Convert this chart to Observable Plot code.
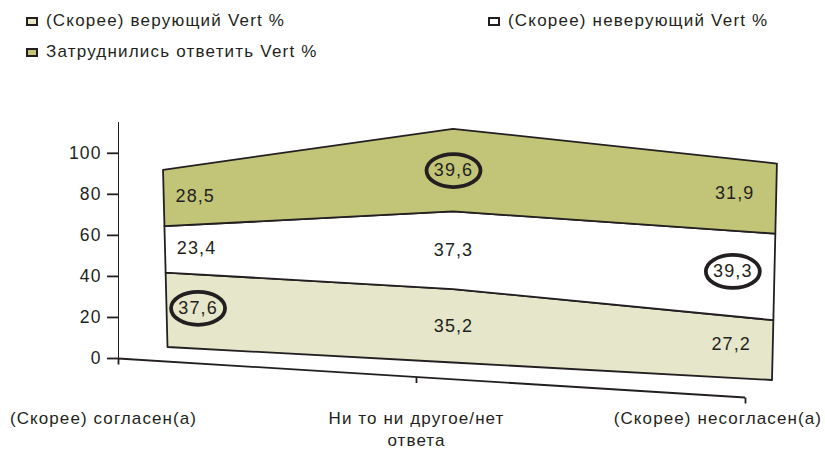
<!DOCTYPE html>
<html>
<head>
<meta charset="utf-8">
<script src="https://cdn.jsdelivr.net/npm/d3@7"></script>
<script src="https://cdn.jsdelivr.net/npm/@observablehq/plot@0.6"></script>
<style>
  html, body { margin: 0; padding: 0; background: #fff; }
  body { font-family: "Liberation Sans", Arial, Helvetica, sans-serif; color: #231f20; }
  #page { width: 825px; height: 449px; overflow: hidden; }
  #legend { position: relative; width: 825px; height: 64px; }
  .item { position: absolute; font-size: 17px; line-height: 20px; letter-spacing: 1.2px; white-space: nowrap; }
  .swatch { display: inline-block; width: 8px; height: 5px; border: 2.2px solid #231f20; margin-right: 8px; }
  #chart svg { display: block; overflow: visible; }
  #chart g[aria-label^="y-axis"] path, #chart g[aria-label^="y-axis"] line { stroke-width: 1.8px; }
</style>
</head>
<body>
<div id="page">
  <div id="legend"></div>
  <div id="chart"></div>
</div>
<script>
// ---------- data ----------
const categories = ["(Скорее) согласен(а)", "Ни то ни другое/нет\nответа", "(Скорее) несогласен(а)"];
const seriesNames = ["(Скорее) верующий Vert %", "(Скорее) неверующий Vert %", "Затруднились ответить Vert %"];
const believer = [37.6, 35.2, 27.2];
const nonBeliever = [23.4, 37.3, 39.3];
const undecided = [28.5, 39.6, 31.9];
const yTicks = [0, 20, 40, 60, 80, 100];

// ---------- style / layout ----------
const seriesColors = ["#e6e6ca", "#ffffff", "#c2c578"];
const ink = "#231f20";
const TOP = 64;                       // legend band above the svg
const W = 825, H = 449 - TOP;
const legendPos = [[26, 11], [488, 11], [26, 42]];
// pseudo-3D: back plane where the stacked areas sit, per category column
const back = {
  x: [167.5, 453, 772],
  base: [347 - TOP, 362.5 - TOP, 380 - TOP],
  unit: [1.98, 2.085, 2.2],
  lean: [-0.05, 0, 0.05],
  labelShift: [31, 0, -42],
  labelLift: [-2, 0, -6]
};
const floorSlope = 0.0622;
const categoryNudge = [-15, 0, 0];
const labelClamp = [7, 822];

// ---------- legend ----------
const legend = document.getElementById("legend");
seriesNames.forEach((name, i) => {
  const it = document.createElement("div");
  it.className = "item";
  it.style.left = legendPos[i][0] + "px";
  it.style.top = legendPos[i][1] + "px";
  const sw = document.createElement("span");
  sw.className = "swatch";
  sw.style.background = seriesColors[i];
  it.appendChild(sw);
  it.appendChild(document.createTextNode(name));
  legend.appendChild(it);
});

// ---------- table ----------
const seriesValues = [believer, nonBeliever, undecided];
const table = [];
seriesNames.forEach((s, si) => seriesValues[si].forEach((v, ci) => table.push({col: ci, series: s, value: v})));
const colMax = categories.map((_, ci) => d3.max(seriesValues, vals => vals[ci]));
const fmt = v => v.toFixed(1).replace(".", ",");

const kappa = 0.5523;
const ellipse = {draw(ctx) {
  const rx = 27, ry = 16.5, k = kappa;
  ctx.moveTo(rx, 0);
  ctx.bezierCurveTo(rx, ry * k, rx * k, ry, 0, ry);
  ctx.bezierCurveTo(-rx * k, ry, -rx, ry * k, -rx, 0);
  ctx.bezierCurveTo(-rx, -ry * k, -rx * k, -ry, 0, -ry);
  ctx.bezierCurveTo(rx * k, -ry, rx, -ry * k, rx, 0);
  ctx.closePath();
}};
const tickDown = {draw(ctx) { ctx.moveTo(0, 0); ctx.lineTo(0, 6); }};

const plot = Plot.plot({
  width: W, height: H,
  marginLeft: 118, marginRight: 80, marginTop: 58, marginBottom: 91,
  style: {fontFamily: "'Liberation Sans', Arial, sans-serif", fontSize: "17.5px", letterSpacing: "1.1px", color: ink, background: "transparent", overflow: "visible"},
  x: {type: "linear", domain: [0, 1, 2], range: [118, 416, 745], axis: null},
  y: {domain: [0, 115], ticks: yTicks, tickSize: 11, tickPadding: 6, line: true, label: null},
  color: {domain: seriesNames, range: seriesColors},
  marks: [
    Plot.areaY(table, {x: "col", y: "value", z: "series", fill: "series", stroke: ink, strokeWidth: 1.8, ariaDescription: "layers"}),
    Plot.text(table, Plot.stackY({x: "col", y: "value", z: "series", text: d => fmt(d.value), fill: ink, fontSize: 18, ariaDescription: "values"})),
    Plot.dot(table, Plot.stackY({x: "col", y: "value", z: "series", symbol: ellipse, fill: "none", stroke: ink, strokeWidth: 3.8,
      strokeOpacity: d => d.value === colMax[d.col] ? 1 : 0, ariaDescription: "highlights"})),
    Plot.ruleY([0], {stroke: ink, strokeWidth: 1.8, ariaDescription: "floor"}),
    Plot.dot(categories, {x: (d, i) => i, y: 0, symbol: tickDown, fill: "none", stroke: ink, strokeWidth: 1.8, ariaDescription: "floorticks"}),
    Plot.text(categories, {x: (d, i) => i, frameAnchor: "bottom", lineAnchor: "top", dy: 50, lineHeight: 1.29, fill: ink, fontSize: 17, ariaDescription: "categories"})
  ]
});
document.getElementById("chart").appendChild(plot);

// ---------- pseudo-3D projection of the flat chart ----------
const xsc = plot.scale("x"), ysc = plot.scale("y");
const colOf = d3.scaleLinear().domain(xsc.range).range(xsc.domain);
const valOf = d3.scaleLinear().domain(ysc.range).range(ysc.domain);
const cols = [0, 1, 2];
const bx = d3.scaleLinear(cols, back.x), bBase = d3.scaleLinear(cols, back.base),
      bUnit = d3.scaleLinear(cols, back.unit), bLean = d3.scaleLinear(cols, back.lean);
function project(xf, yf) {
  const c = colOf(xf), v = valOf(yf);
  return [bx(c) + bLean(c) * v, bBase(c) - bUnit(c) * v];
}
function grp(desc, type, idx) {
  return plot.querySelector(`g[aria-description="${desc}"]`) || plot.querySelectorAll(`g[aria-label="${type}"]`)[idx];
}
function getPos(el) {
  const t = el.getAttribute("transform");
  if (t) {
    const m = /translate\(\s*([-\d.e]+)[\s,]+([-\d.e]+)\s*\)/.exec(t);
    if (m) return {x: +m[1], y: +m[2], mode: "t"};
  }
  return {x: +(el.getAttribute("x") || 0), y: +(el.getAttribute("y") || 0), mode: "a"};
}
function setPos(el, p, x, y) {
  if (p.mode === "t") {
    el.setAttribute("transform", el.getAttribute("transform").replace(/translate\([^)]*\)/, `translate(${x},${y})`));
  } else {
    const ddx = x - p.x;
    el.setAttribute("x", x); el.setAttribute("y", y);
    el.querySelectorAll("tspan").forEach(ts => { if (ts.hasAttribute("x")) ts.setAttribute("x", +ts.getAttribute("x") + ddx); });
  }
}
const num = "(-?\\d*\\.?\\d+(?:e[-+]?\\d+)?)";
const pairRe = new RegExp(num + "," + num, "g");
const layers = grp("layers", "area", 0);
if (layers) layers.querySelectorAll("path").forEach(p => {
  p.setAttribute("d", p.getAttribute("d").replace(pairRe, (m, a, b) => {
    const [X, Y] = project(+a, +b);
    return X.toFixed(2) + "," + Y.toFixed(2);
  }));
});
function placeOnBack(g, sel) {
  if (!g) return;
  g.querySelectorAll(sel).forEach(el => {
    const p = getPos(el);
    const c = Math.round(colOf(p.x));
    const [X, Y] = project(p.x, p.y);
    setPos(el, p, X + back.labelShift[c], Y + back.labelLift[c]);
  });
}
placeOnBack(grp("values", "text", 0), "text");
placeOnBack(grp("highlights", "dot", 0), "path");
const skew = `matrix(1,${floorSlope},0,1,0,${-floorSlope * xsc.range[0]})`;
[grp("floor", "rule", 0), grp("floorticks", "dot", 1)].forEach(g => {
  if (g) g.setAttribute("transform", skew + " " + (g.getAttribute("transform") || ""));
});
// category labels: nudge, then keep inside the picture
const cats = grp("categories", "text", 1);
if (cats) {
  const sr = plot.getBoundingClientRect();
  cats.querySelectorAll("text").forEach(el => {
    const p0 = getPos(el);
    const c = Math.round(colOf(p0.x));
    if (categoryNudge[c]) setPos(el, p0, p0.x + categoryNudge[c], p0.y);
    const r = el.getBoundingClientRect();
    const l = r.left - sr.left, rr = r.right - sr.left;
    let shift = 0;
    if (l < labelClamp[0]) shift = labelClamp[0] - l;
    else if (rr > labelClamp[1]) shift = labelClamp[1] - rr;
    if (shift) { const p = getPos(el); setPos(el, p, p.x + shift, p.y); }
  });
}
</script>
</body>
</html>
